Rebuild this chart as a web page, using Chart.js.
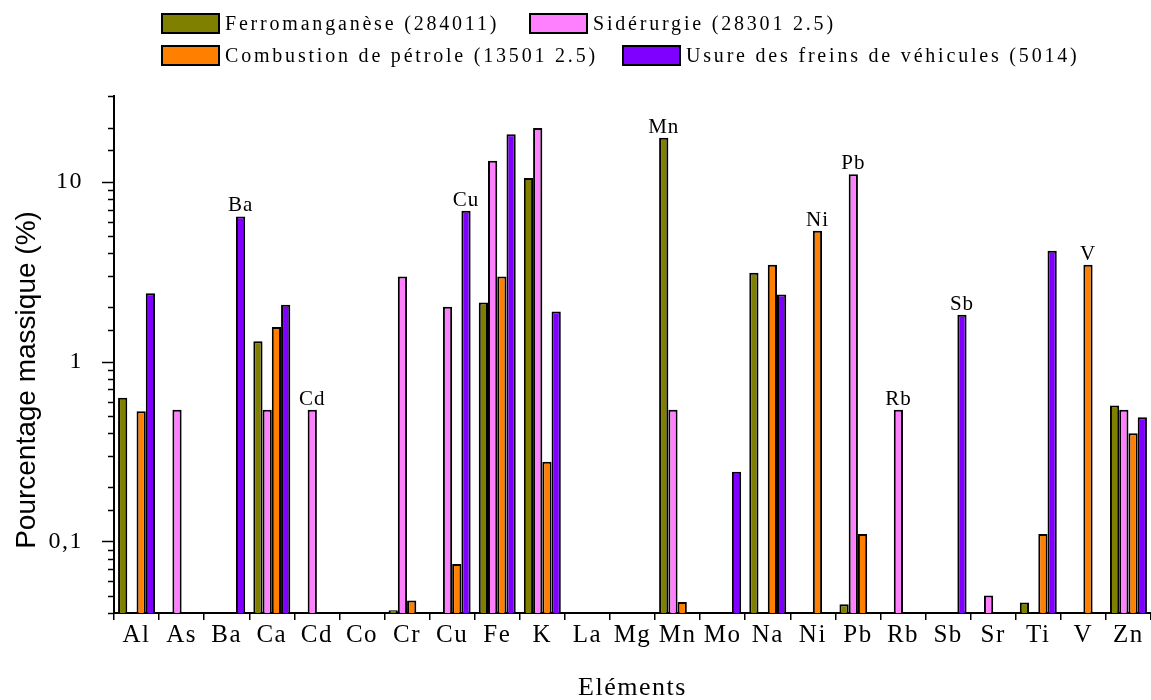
<!DOCTYPE html>
<html>
<head>
<meta charset="utf-8">
<script src="https://cdn.jsdelivr.net/npm/chart.js@4"></script>
<style>
  body { margin: 0; background: #fff; overflow: hidden; }
</style>
</head>
<body>
<canvas id="myChart" width="1151" height="700"></canvas>
<script>
// data (mass %, log axis); null = no bar
const elements = ['Al','As','Ba','Ca','Cd','Co','Cr','Cu','Fe','K','La','Mg','Mn','Mo','Na','Ni','Pb','Rb','Sb','Sr','Ti','V','Zn'];
const seriesNames = ['Ferromanganèse (284011)', 'Sidérurgie (28301 2.5)', 'Combustion de pétrole (13501 2.5)', 'Usure des freins de véhicules (5014)'];
const ferromanganese = [0.63,null,null,1.30,null,null,0.0415,null,2.13,10.5,null,null,17.6,null,3.12,null,0.0447,null,null,null,0.0457,null,0.57];
const siderurgie     = [null,0.54,null,0.54,0.54,null,2.97,2.02,13.1,19.9,null,null,0.54,null,null,null,11.0,0.54,null,0.05,null,null,0.54];
const combustion     = [0.53,null,null,1.56,null,null,0.047,0.075,2.97,0.277,null,null,0.046,null,3.46,5.34,0.11,null,null,null,0.11,3.46,0.40];
const freins         = [2.40,null,6.42,2.07,null,null,null,6.90,18.4,1.90,null,null,null,0.244,2.36,null,null,null,1.82,null,4.13,null,0.49];
// labels written above some bars: element + which series
const noteElements = ['Ba','Cd','Cu','Mn','Ni','Pb','Rb','Sb','V'];
const noteSeries   = [3, 1, 3, 0, 2, 1, 1, 3, 2];
const yTickLabels = {'0.1': '0,1', '1': '1', '10': '10'};
const yTitle = 'Pourcentage massique (%)';
const xTitle = 'Eléments';

const colorHex = ['#808000', '#ff80ff', '#ff8000', '#8000ff'];
const serif = '"Liberation Serif", "Times New Roman", serif';

function isDecade(v) {
    const l = Math.log10(v);
    return Math.abs(l - Math.round(l)) < 1e-6;
}

const extras = {
    id: 'extras',
    beforeDraw(chart) { chart.ctx.letterSpacing = '1.5px'; },
    afterDraw(chart) {
        const ctx = chart.ctx, y = chart.scales.y, area = chart.chartArea;
        ctx.save();
        // y tick marks, long on decades
        ctx.strokeStyle = '#000';
        ctx.lineWidth = 1.5;
        y.ticks.forEach(function (t) {
            const py = Math.round(y.getPixelForValue(t.value)) + 0.5;
            ctx.beginPath();
            ctx.moveTo(area.left - (isDecade(t.value) ? 12 : 6), py);
            ctx.lineTo(area.left, py);
            ctx.stroke();
        });
        // element names above bars
        ctx.fillStyle = '#000';
        ctx.font = '21px ' + serif;
        ctx.letterSpacing = '1px';
        ctx.textAlign = 'center';
        ctx.textBaseline = 'alphabetic';
        noteElements.forEach(function (el, k) {
            const bar = chart.getDatasetMeta(noteSeries[k]).data[elements.indexOf(el)];
            ctx.fillText(el, bar.x, bar.y - 5);
        });
        // legend, two rows
        const pos = [[162, 14], [530, 14], [162, 46], [623, 46]];
        ctx.font = '20px ' + serif;
        ctx.letterSpacing = '2.8px';
        ctx.textAlign = 'left';
        ctx.textBaseline = 'middle';
        chart.data.datasets.forEach(function (ds, i) {
            const [bx, by] = pos[i];
            ctx.fillStyle = ds.backgroundColor;
            ctx.fillRect(bx, by, 57, 19);
            ctx.lineWidth = 2;
            ctx.strokeRect(bx, by, 57, 19);
            ctx.fillStyle = '#000';
            ctx.fillText(ds.label, bx + 63, by + 11);
        });
        // y title
        ctx.translate(27, 380);
        ctx.rotate(-Math.PI / 2);
        ctx.font = '28px "Liberation Sans", Arial, sans-serif';
        ctx.letterSpacing = '0px';
        ctx.textAlign = 'center';
        ctx.fillText(yTitle, 0, 0);
        ctx.restore();
    }
};

const ctx = document.getElementById('myChart').getContext('2d');
const seriesData = [ferromanganese, siderurgie, combustion, freins];

const myChart = new Chart(ctx, {
    type: 'bar',
    data: {
        labels: elements,
        datasets: seriesData.map(function (d, i) {
            return {label: seriesNames[i], data: d, backgroundColor: colorHex[i],
                borderColor: '#000', borderWidth: 2, borderSkipped: 'bottom',
                categoryPercentage: 0.82, barPercentage: 1.0};
        })
    },
    plugins: [extras],
    options: {
        responsive: false, animation: false,
        layout: {padding: {top: 96, right: 0, left: 0, bottom: 0}},
        plugins: {legend: {display: false}, tooltip: {enabled: false}},
        scales: {
            x: {
                grid: {display: true, drawOnChartArea: false, drawTicks: true, tickLength: 7, color: '#000', lineWidth: 1.5, offset: true},
                border: {display: true, color: '#000', width: 2},
                ticks: {color: '#000', font: {family: serif, size: 25}, padding: 0, autoSkip: false, maxRotation: 0},
                title: {display: true, text: xTitle, color: '#000', font: {family: serif, size: 26}, padding: {top: 4, bottom: -4}},
                afterFit: function (scale) { scale.height = 87; }
            },
            y: {
                type: 'logarithmic', min: 0.04, max: 30,
                grid: {display: false},
                border: {display: true, color: '#000', width: 2},
                ticks: {color: '#000', font: {family: serif, size: 24}, padding: 23, autoSkip: false,
                    callback: function (v) {
                        if (!isDecade(v)) return '';
                        return yTickLabels[String(Math.round(v * 10) / 10)] || '';
                    }},
                afterFit: function (scale) { scale.width = 114; }
            }
        }
    }
});
</script>
</body>
</html>
